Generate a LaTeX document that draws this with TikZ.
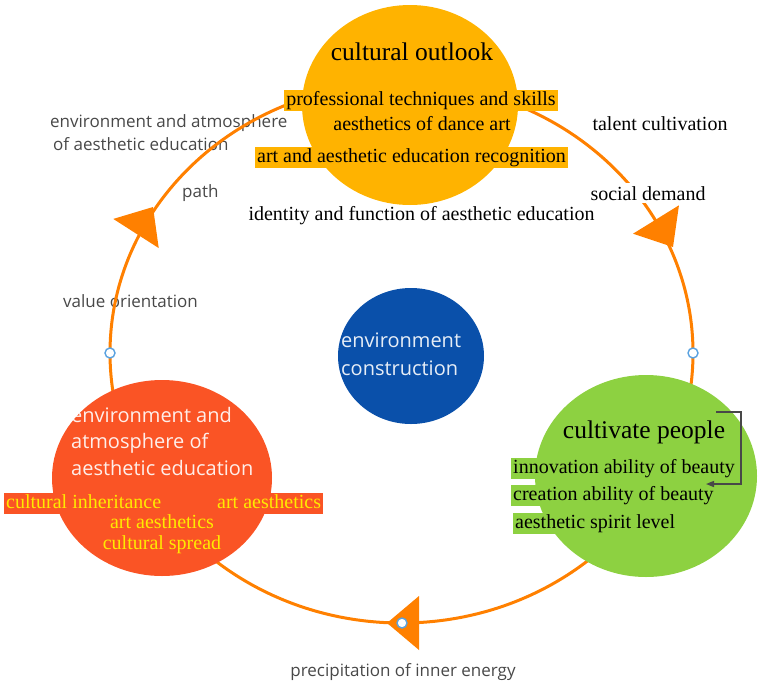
\documentclass[tikz,border=0pt]{standalone}
\usepackage{fontspec}
\setmainfont{Liberation Serif}
\newfontfamily\uisans{Open Sans}
\usetikzlibrary{shapes.geometric,calc,arrows.meta}

\definecolor{ringc}{HTML}{FF8000}
\definecolor{amber}{HTML}{FFB300}
\definecolor{leaf}{HTML}{8DD141}
\definecolor{coral}{HTML}{FA5425}
\definecolor{navy}{HTML}{0A50AA}
\definecolor{gold}{HTML}{FFEA00}
\definecolor{slate}{HTML}{484848}
\definecolor{dotc}{HTML}{5AA2E0}

\begin{document}
\begin{tikzpicture}[x=1pt,y=-1pt,
  blob/.style={ellipse, inner sep=0pt, draw=none},
  serif/.style={font=\fontsize{20}{24}\selectfont, text=black, inner sep=0pt, anchor=base},
  title/.style={font=\fontsize{25.5}{30}\selectfont, text=black, inner sep=0pt, anchor=base},
  hl/.style={text height=13.5pt, text depth=3.5pt, inner xsep=2pt, inner ysep=2pt},
  grey/.style={font=\uisans\fontsize{17}{20}\selectfont, text=slate, inner sep=0pt, anchor=base west},
  inner/.style={font=\uisans\fontsize{20}{27}\selectfont, text=white, text opacity=0.9, inner sep=0pt, anchor=base west},
  ring/.style={draw=ringc, line width=3pt},
  dot/.style={circle, draw=dotc, fill=white, line width=1.4pt, minimum size=10pt, inner sep=0pt},
  head/.style={fill=ringc}
]
\useasboundingbox (0,0) rectangle (763,691);

% labels lying under the ring
\node[grey] (envL1) at (50,127) {environment and atmosphere};
\node[grey] (envL2) at (53,150) {of aesthetic education};
\node[grey] (pathL) at (182,197) {path};
\node[grey] (valueL) at (63,307) {value orientation};
\node[grey, anchor=base] (precL) at (403,676) {precipitation of inner energy};

% the cycle
\draw[ring] (401.5,353) ellipse [x radius=291.5, y radius=270];

% direction heads on the cycle
\coordinate (tipL) at (153,207);  \coordinate (baseL) at (136,233.5);
\coordinate (tipR) at (673,247);  \coordinate (baseR) at (656,219.5);
\coordinate (tipB) at (387,623);  \coordinate (baseB) at (419,623);
\foreach \t/\b in {tipL/baseL, tipR/baseR, tipB/baseB}{
  \fill[head] (\t) -- ($(\b)!27pt!90:(\t)$) -- ($(\b)!27pt!-90:(\t)$) -- cycle;
}

% handles on the cycle
\node[dot] (hL) at (110,353) {};
\node[dot] (hR) at (693,353) {};
\node[dot] (hB) at (402,623) {};

% the four circles
\node[blob, fill=amber, minimum width=216pt, minimum height=200pt] (outlook) at (410,105) {};
\node[blob, fill=navy, minimum width=146pt, minimum height=136pt] (construct) at (411,356) {};
\node[blob, fill=coral, minimum width=220pt, minimum height=196pt] (atmos) at (162,478) {};
\node[blob, fill=leaf, minimum width=222pt, minimum height=202pt] (people) at (646,476) {};

% cultural outlook
\node[title] (outT) at (412,60) {cultural outlook};
\node[serif, hl, fill=amber] (out1) at (421,105) {professional techniques and skills};
\node[serif] (out2) at (422,130) {aesthetics of dance art};
\node[serif, hl, fill=amber] (out3) at (411.5,162) {art and aesthetic education recognition};
\node[serif] (out4) at (421.5,220) {identity and function of aesthetic education};
\node[serif] (talent) at (660,130) {talent cultivation};
\node[serif, fill=white, inner xsep=1pt, inner ysep=3pt] (social) at (648,200) {social demand};

% environment construction
\node[inner] (con1) at (341,347) {environment};
\node[inner] (con2) at (341,375) {construction};

% environment and atmosphere of aesthetic education
\node[inner] (atm1) at (71,422) {environment and};
\node[inner] (atm2) at (71,448) {atmosphere of};
\node[inner] (atm3) at (71,475) {aesthetic education};
\node[serif, hl, fill=coral, text=gold, anchor=base west] (atm4) at (4,508) {cultural inheritance};
\node[serif, hl, fill=coral, text=gold, anchor=base west] (atm5) at (215,508) {art aesthetics};
\node[serif, text=gold] (atm6) at (162,528) {art aesthetics};
\node[serif, text=gold] (atm7) at (162,549) {cultural spread};

% cultivate people
\node[title] (pplT) at (644,438) {cultivate people};
\node[serif, hl, fill=leaf, anchor=base west] (ppl1) at (511,473) {innovation ability of beauty};
\node[serif, hl, fill=leaf, anchor=base west] (ppl2) at (511,500) {creation ability of beauty};
\node[serif, hl, fill=leaf, anchor=base west] (ppl3) at (513,528) {aesthetic spirit level};

% loop-back bracket
\coordinate (brS) at (716,412);
\coordinate (brE) at (706,484);
\draw[slate, line width=1.4pt, -{Triangle[length=8pt,width=6pt]}] (brS) -- ++(25,0) |- (brE);
\end{tikzpicture}
\end{document}
